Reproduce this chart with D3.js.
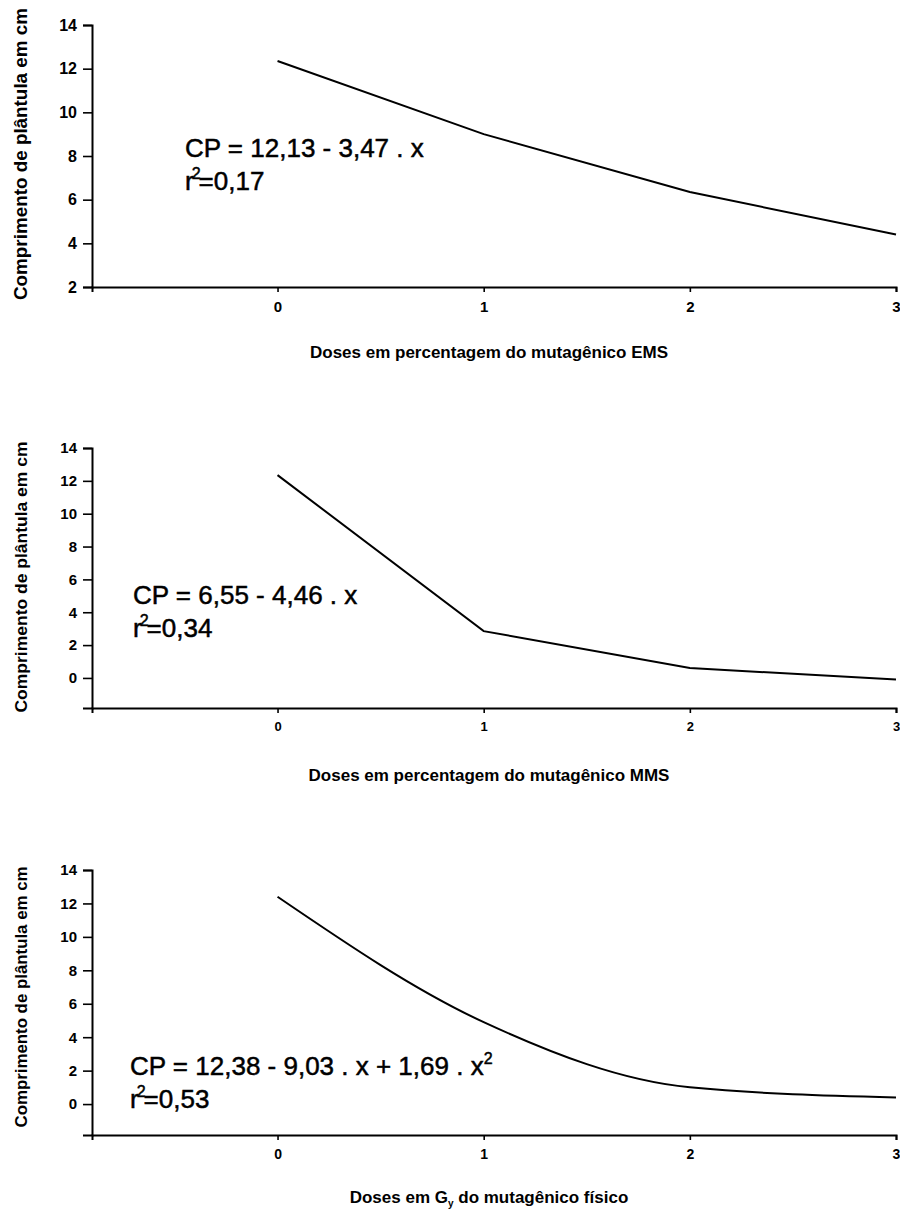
<!DOCTYPE html>
<html>
<head>
<meta charset="utf-8">
<script src="https://cdn.jsdelivr.net/npm/d3@7"></script>
<style>
  body { margin: 0; background: #fff; }
  svg { display: block; font-family: "Liberation Sans", Arial, Helvetica, sans-serif; }
</style>
</head>
<body>
<div id="graphic"></div>
<script>
// doses on the x axis (same for all three panels)
const doses = [0, 1, 2, 3];
const doseLabels = ["0", "1", "2", "3"];

// seedling length (cm)
const emsLength = [12.35, 9.0, 6.35, 4.4];
const mmsLength = [12.35, 2.85, 0.6, -0.1];
const gyLength = [12.4, 4.9, 1.0, 0.4];

// y tick labels
const yTicksEms = [2, 4, 6, 8, 10, 12, 14];
const yTicksOther = [0, 2, 4, 6, 8, 10, 12, 14];

// texts
const yTitle = "Comprimento de plântula em cm";
const equations = [
    "CP = 12,13 - 3,47 . x",
    "CP = 6,55 - 4,46 . x",
    "CP = 12,38 - 9,03 . x + 1,69 . x"
];
const r2Values = ["=0,17", "=0,34", "=0,53"];

const width = 900, height = 1213;

const svg = d3.select("#graphic").append("svg")
    .attr("width", width)
    .attr("height", height);

const x = d3.scaleLinear().domain([-0.9, 3]).range([92, 896]);

// layout per panel
const panels = [
    { values: emsLength, ticks: yTicksEms, yDomain: [2, 14], yRange: [287, 25], curve: d3.curveLinear,
      eq: equations[0], r2: r2Values[0], eqX: 185, eqY: 157, yTitleY: 154, yTitleSize: 18.5, yTitleLen: 292,
      tickSize: 16, xTickSize: 15, title: "Doses em percentagem do mutagênico EMS", titleY: 358 },
    { values: mmsLength, ticks: yTicksOther, yDomain: [-1.83, 14], yRange: [708, 448], curve: d3.curveLinear,
      eq: equations[1], r2: r2Values[1], eqX: 133, eqY: 604, yTitleY: 577, yTitleSize: 17, yTitleLen: 271,
      tickSize: 15, xTickSize: 13, title: "Doses em percentagem do mutagênico MMS", titleY: 781 },
    { values: gyLength, ticks: yTicksOther, yDomain: [-1.85, 14], yRange: [1135, 870], curve: d3.curveMonotoneX,
      eq: equations[2], r2: r2Values[2], eqX: 130, eqY: 1075, yTitleY: 997, yTitleSize: 16.5, yTitleLen: 261,
      tickSize: 15, xTickSize: 14, title: null, titleY: 1203, square: true }
];

panels.forEach(drawPanel);

function drawPanel(p) {
    const y = d3.scaleLinear().domain(p.yDomain).range(p.yRange);
    const g = svg.append("g");
    const axisY = p.yRange[0];

    // x axis
    const xa = g.append("g")
        .attr("transform", `translate(0,${axisY})`)
        .call(d3.axisBottom(x).tickValues(doses).tickFormat((d, i) => doseLabels[i])
            .tickSizeOuter(0).tickSize(5).tickPadding(9));
    xa.select(".domain").attr("stroke-width", 2);
    xa.selectAll(".tick line").attr("stroke-width", 1.6);
    xa.selectAll(".tick text")
        .attr("font-size", p.xTickSize)
        .attr("font-weight", "bold")
        .attr("font-family", "Liberation Sans, Arial, sans-serif")
        .attr("fill", "#000");

    // y axis
    const ya = g.append("g")
        .attr("transform", `translate(${x.range()[0]},0)`)
        .call(d3.axisLeft(y).tickValues(p.ticks).tickSizeOuter(0).tickSize(9).tickPadding(6));
    ya.select(".domain").attr("stroke-width", 2);
    ya.selectAll(".tick line").attr("stroke-width", 1.6);
    ya.selectAll(".tick text")
        .attr("font-size", p.tickSize)
        .attr("font-weight", "bold")
        .attr("font-family", "Liberation Sans, Arial, sans-serif")
        .attr("fill", "#000");

    // y title
    g.append("text")
        .attr("transform", `translate(27,${p.yTitleY}) rotate(-90)`)
        .attr("text-anchor", "middle")
        .attr("font-size", p.yTitleSize)
        .attr("font-weight", "bold")
        .attr("textLength", p.yTitleLen)
        .attr("lengthAdjust", "spacingAndGlyphs")
        .text(yTitle);

    // x title
    const t = g.append("text")
        .attr("x", 489)
        .attr("y", p.titleY)
        .attr("text-anchor", "middle")
        .attr("font-size", 17)
        .attr("font-weight", "bold");
    if (p.title) {
        t.text(p.title);
    } else {
        t.append("tspan").text("Doses em G");
        t.append("tspan").attr("font-size", 10).attr("dy", 4).text("y");
        t.append("tspan").attr("dy", -4).text(" do mutagênico físico");
    }

    // curve
    const line = d3.line()
        .x((d, i) => x(doses[i]))
        .y(d => y(d))
        .curve(p.curve);
    g.append("path")
        .datum(p.values)
        .attr("fill", "none")
        .attr("stroke", "#000")
        .attr("stroke-width", 2)
        .attr("d", line);

    // equation
    const eq = g.append("text")
        .attr("x", p.eqX)
        .attr("y", p.eqY)
        .attr("font-size", 26)
        .attr("fill", "#000")
        .attr("stroke", "#000")
        .attr("stroke-width", 0.5);
    eq.append("tspan").text(p.eq);
    if (p.square) {
        eq.append("tspan").attr("font-size", 16).attr("dy", -11).text("2");
    }

    const r2 = g.append("text")
        .attr("x", p.eqX)
        .attr("y", p.eqY + 33)
        .attr("font-size", 26)
        .attr("fill", "#000")
        .attr("stroke", "#000")
        .attr("stroke-width", 0.5);
    r2.append("tspan").text("r");
    r2.append("tspan").attr("font-size", 16).attr("dy", -11).attr("dx", -2).text("2");
    r2.append("tspan").attr("dy", 11).attr("dx", -2).text(p.r2);
}
</script>
</body>
</html>
